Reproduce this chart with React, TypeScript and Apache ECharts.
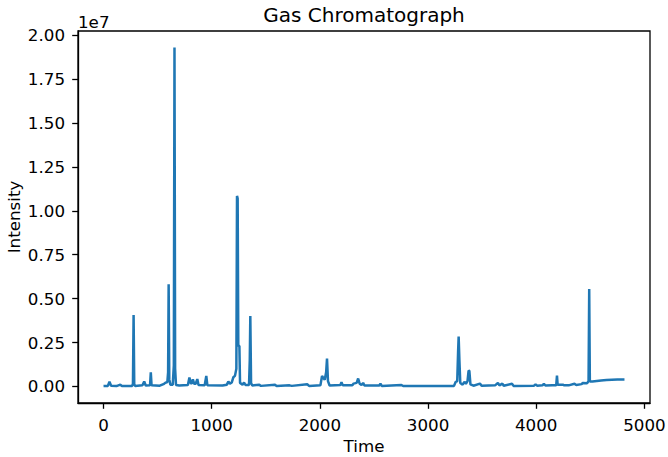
import React, { useEffect, useRef } from "react";
import * as echarts from "echarts";

const times: number[] = [
  0, 40, 55, 70, 120, 155, 170, 265, 272, 278, 284, 292, 360, 376, 390, 430, 437, 444,
  520, 560, 570, 590, 597, 602, 608, 618, 640, 650, 656, 662, 670, 700, 780, 794, 805,
  815, 826, 838, 852, 867, 878, 935, 950, 960, 1100, 1140, 1154, 1168, 1185, 1200, 1215,
  1228, 1234, 1240, 1246, 1256, 1262, 1285, 1299, 1312, 1345, 1352, 1357, 1364, 1375,
  1440, 1455, 1585, 1600, 1720, 1740, 1883, 1900, 2005, 2020, 2030, 2045, 2058, 2066,
  2075, 2090, 2190, 2200, 2212, 2300, 2312, 2340, 2354, 2368, 2385, 2400, 2412, 2550,
  2560, 2572, 2754, 2770, 3240, 3255, 3270, 3278, 3283, 3290, 3298, 3320, 3336, 3350,
  3365, 3375, 3382, 3392, 3420, 3480, 3495, 3620, 3646, 3660, 3687, 3700, 3776, 3790,
  3980, 3994, 4008, 4060, 4071, 4085, 4150, 4185, 4192, 4198, 4246, 4260, 4300, 4354,
  4370, 4420, 4431, 4470, 4484, 4490, 4496, 4520, 4560, 4600, 4650, 4700, 4750, 4790, 4816,
];

const intensity: number[] = [
  20000, 30000, 270000, 40000, 20000, 100000, 30000, 30000, 150000, 4070000, 120000, 30000,
  60000, 280000, 50000, 60000, 800000, 60000, 40000, 150000, 200000, 250000, 800000,
  5820000, 400000, 100000, 100000, 1200000, 19300000, 1000000, 80000, 50000, 80000,
  500000, 200000, 150000, 400000, 150000, 150000, 420000, 80000, 60000, 600000, 60000,
  50000, 100000, 280000, 150000, 220000, 520000, 600000, 1000000, 10850000, 10700000,
  2320000, 2300000, 200000, 100000, 220000, 80000, 80000, 1500000, 4010000, 200000, 50000,
  100000, 30000, 100000, 30000, 60000, 30000, 120000, 30000, 60000, 600000, 500000, 380000,
  800000, 1580000, 300000, 50000, 80000, 240000, 60000, 60000, 160000, 200000, 450000,
  150000, 80000, 200000, 50000, 50000, 150000, 30000, 80000, 20000, 30000, 250000, 300000,
  2000000, 2840000, 1500000, 200000, 100000, 260000, 150000, 300000, 900000, 880000,
  120000, 40000, 160000, 40000, 60000, 200000, 60000, 160000, 40000, 150000, 30000, 40000,
  120000, 40000, 60000, 150000, 50000, 70000, 60000, 620000, 100000, 100000, 60000, 60000,
  150000, 80000, 130000, 200000, 180000, 300000, 5550000, 280000, 280000, 310000, 340000,
  370000, 380000, 390000, 390000, 390000,
];

const yTicks: number[] = [0, 2500000, 5000000, 7500000, 10000000, 12500000, 15000000, 17500000, 20000000];
const xTicks: number[] = [0, 1000, 2000, 3000, 4000, 5000];

const FONT = "DejaVu Sans";
const TICK_FS = 16.7;

export default function App() {
  const ref = useRef<HTMLDivElement>(null);
  useEffect(() => {
    if (!ref.current) return;
    const chart = echarts.init(ref.current, undefined, { renderer: "svg" });
    const data = times.map((t, i) => [t, intensity[i]]);
    chart.setOption({
      animation: false,
      grid: {
        left: 78,
        top: 31,
        right: 18,
        bottom: 54,
        show: true,
        borderColor: "#000",
        borderWidth: 1.3,
        containLabel: false,
        outerBoundsMode: "none",
      },
      graphic: [
        {
          type: "text",
          x: 364,
          y: 15.2,
          style: {
            text: "Gas Chromatograph",
            font: `20px "${FONT}"`,
            fill: "#000",
            textAlign: "center",
            textVerticalAlign: "middle",
          },
        },
        {
          type: "text",
          x: 78,
          y: 21.7,
          style: {
            text: "1e7",
            font: `${TICK_FS}px "${FONT}"`,
            fill: "#000",
            textAlign: "left",
            textVerticalAlign: "middle",
          },
        },
        {
          type: "text",
          x: 14.4,
          y: 217,
          rotation: Math.PI / 2,
          style: {
            text: "Intensity",
            font: `${TICK_FS}px "${FONT}"`,
            fill: "#000",
            textAlign: "center",
            textVerticalAlign: "middle",
          },
        },
      ],
      xAxis: {
        type: "value",
        min: -236,
        max: 5052,
        name: "Time",
        nameLocation: "middle",
        nameGap: 32,
        nameTextStyle: { fontFamily: FONT, fontSize: TICK_FS, color: "#000" },
        splitLine: { show: false },
        axisLine: { show: true, onZero: false, lineStyle: { color: "#000", width: 1.3 } },
        axisTick: { show: true, length: 5.8, inside: false, customValues: xTicks, lineStyle: { color: "#000", width: 1.3 } },
        axisLabel: {
          customValues: xTicks,
          margin: 13,
          fontFamily: FONT,
          fontSize: TICK_FS,
          color: "#000",
          formatter: (v: number) => String(v),
        },
      },
      yAxis: {
        type: "value",
        min: -945000,
        max: 20240000,
        splitLine: { show: false },
        axisLine: { show: true, onZero: false, lineStyle: { color: "#000", width: 1.3 } },
        axisTick: { show: true, length: 5.8, inside: false, customValues: yTicks, lineStyle: { color: "#000", width: 1.3 } },
        axisLabel: {
          customValues: yTicks,
          margin: 13,
          fontFamily: FONT,
          fontSize: TICK_FS,
          color: "#000",
          formatter: (v: number) => (v / 1e7).toFixed(2),
        },
      },
      series: [
        {
          type: "line",
          data,
          showSymbol: false,
          symbol: "none",
          lineStyle: { color: "#1f77b4", width: 2.5 },
          itemStyle: { color: "#1f77b4" },
          clip: true,
        },
      ],
    });
    return () => chart.dispose();
  }, []);
  return (
    <div
      ref={ref}
      style={{ position: "fixed", left: 0, top: 0, width: 668, height: 457, background: "#fff" }}
    />
  );
}
